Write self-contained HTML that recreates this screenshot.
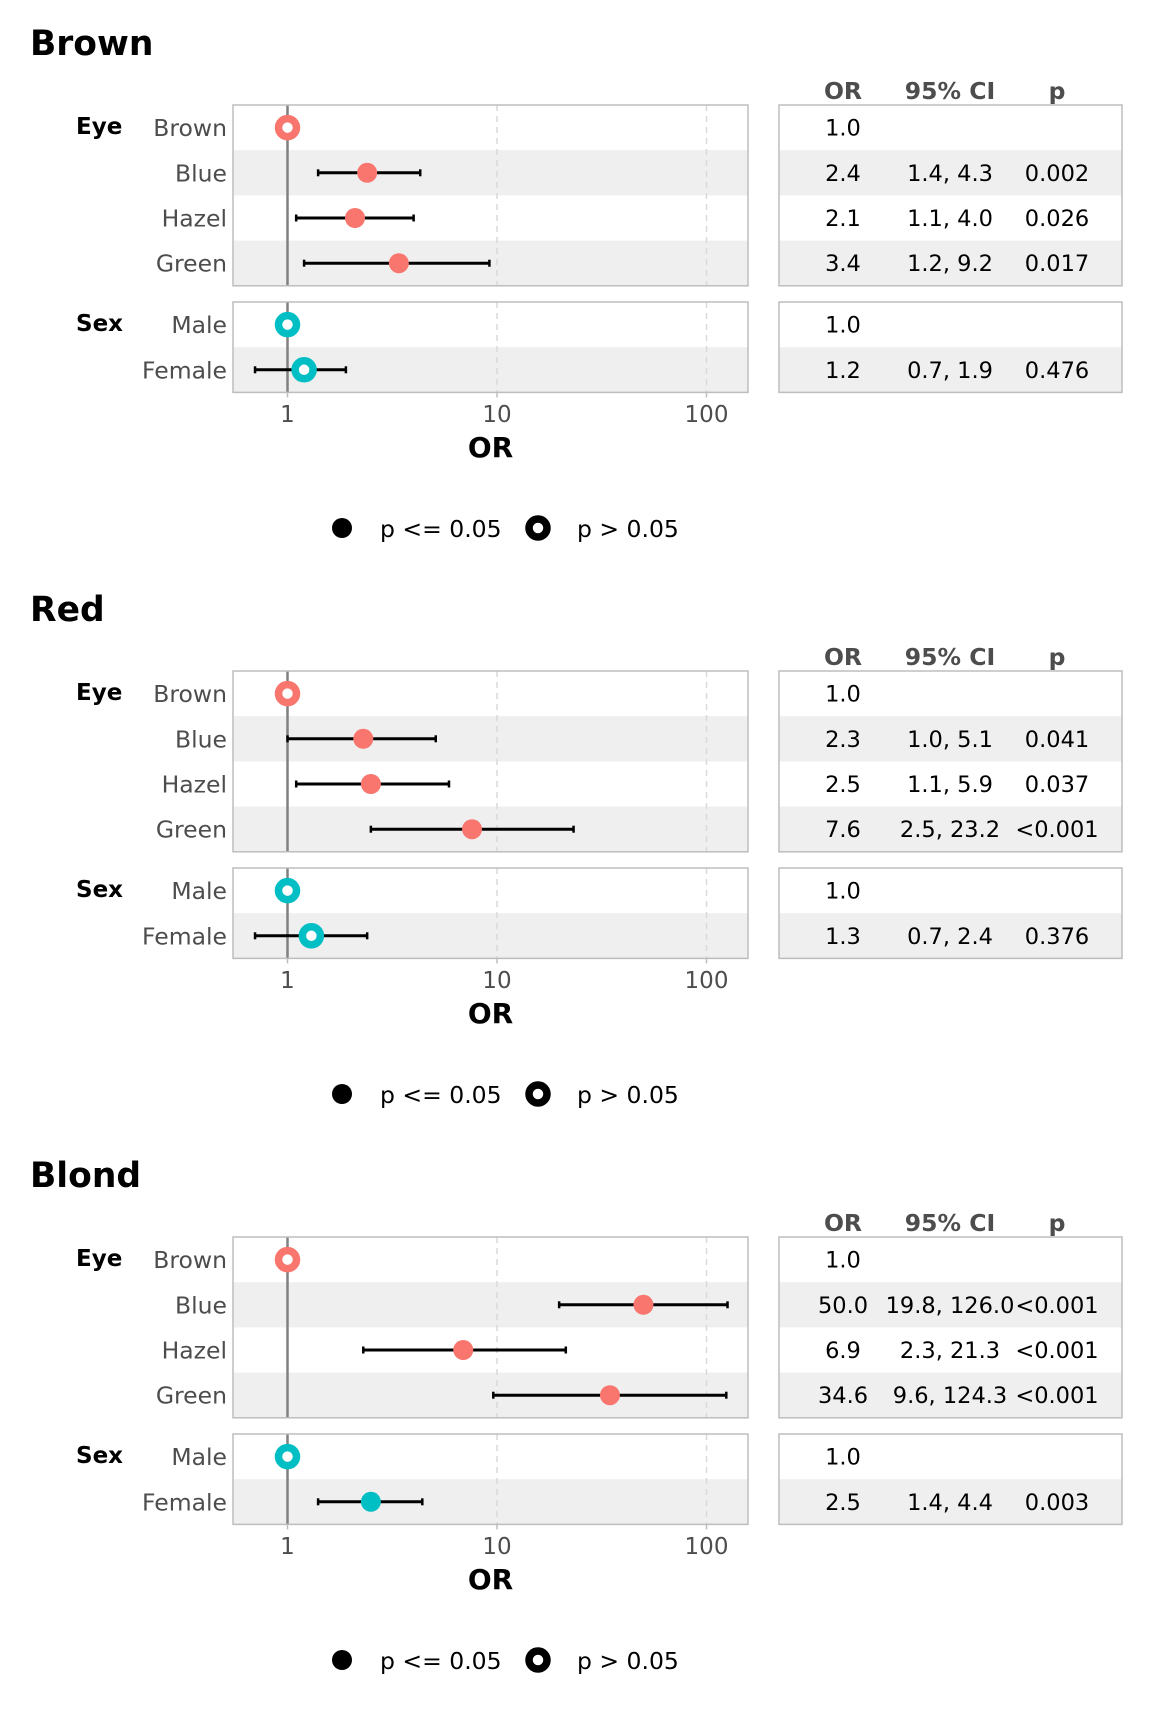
<!DOCTYPE html>
<html><head><meta charset="utf-8">
<style>
html,body{margin:0;padding:0;background:#fff;}
svg{display:block;font-family:"DejaVu Sans","Liberation Sans",sans-serif;}
</style></head>
<body>
<svg id="chart" width="1152" height="1728" viewBox="0 0 1152 1728" xmlns="http://www.w3.org/2000/svg"></svg>
<script>
const sectionTitles = ["Brown", "Red", "Blond"];
const eyeLevels = ["Brown", "Blue", "Hazel", "Green"];
const sexLevels = ["Male", "Female"];
// OR estimates per section: [Brown, Blue, Hazel, Green, Male, Female]
const orValues = [
  [1.0, 2.4, 2.1, 3.4, 1.0, 1.2],
  [1.0, 2.3, 2.5, 7.6, 1.0, 1.3],
  [1.0, 50.0, 6.9, 34.6, 1.0, 2.5]
];
const ciLow = [
  [null, 1.4, 1.1, 1.2, null, 0.7],
  [null, 1.0, 1.1, 2.5, null, 0.7],
  [null, 19.8, 2.3, 9.6, null, 1.4]
];
const ciHigh = [
  [null, 4.3, 4.0, 9.2, null, 1.9],
  [null, 5.1, 5.9, 23.2, null, 2.4],
  [null, 126.0, 21.3, 124.3, null, 4.4]
];
const pValues = [
  ["", "0.002", "0.026", "0.017", "", "0.476"],
  ["", "0.041", "0.037", "<0.001", "", "0.376"],
  ["", "<0.001", "<0.001", "<0.001", "", "0.003"]
];
const significant = [
  [false, true, true, true, false, false],
  [false, true, true, true, false, false],
  [false, true, true, true, false, true]
];
const tickValues = [1, 10, 100];
const tickLabels = ["1", "10", "100"];

const NS = "http://www.w3.org/2000/svg";
const svg = document.getElementById("chart");
function mk(tag, attrs, parent, text) {
  const e = document.createElementNS(NS, tag);
  for (const k in attrs) e.setAttribute(k, attrs[k]);
  if (text !== undefined) e.textContent = text;
  (parent || svg).appendChild(e);
  return e;
}
const PL = 233, PR = 748, X1 = 287.5, DEC = 209.5;
function xScale(v) { return X1 + DEC * Math.log10(v); }
const TL = 779, TR = 1122;
const colOR = 843, colCI = 950, colP = 1057;
const ROWH = 45.2;
const eyeTop = 105, sexTop = 302;
const SECT = 566;
const red = "#F8766D", cyan = "#00BFC4";
function fmt(v) { return v.toFixed(1); }

sectionTitles.forEach((title, s) => {
  const off = s * SECT;
  const g = mk("g", {});
  
  
  const t = mk("text", {x: 30, y: off + 55, "font-size": 34.5, "font-weight": "bold", fill: "#000"}, g, title);
  
  
  [["OR", colOR], ["95% CI", colCI], ["p", colP]].forEach(([h, cx]) => {
    const ht = mk("text", {x: cx, y: off + 99, "font-size": 23.5, "font-weight": "bold", fill: "#4d4d4d", "text-anchor": "middle"}, g, h);
    
    
  });
  const groups = [
    {name: "Eye", levels: eyeLevels, top: eyeTop, start: 0, color: red},
    {name: "Sex", levels: sexLevels, top: sexTop, start: 4, color: cyan}
  ];
  groups.forEach(grp => {
    const top = off + grp.top;
    const h = grp.levels.length * ROWH;
    grp.levels.forEach((lv, i) => {
      if (i % 2 === 1) {
        const r1 = mk("rect", {x: PL, y: top + i * ROWH, width: PR - PL, height: ROWH, fill: "#efefef"}, g);
        
        
        const r2 = mk("rect", {x: TL, y: top + i * ROWH, width: TR - TL, height: ROWH, fill: "#efefef"}, g);
        
        
      }
    });
    tickValues.slice(1).forEach(tv => {
      const gl = mk("line", {x1: xScale(tv), x2: xScale(tv), y1: top, y2: top + h, stroke: "#d9d9d9", "stroke-width": 1.5, "stroke-dasharray": "6,5"}, g);
      
      
    });
    const rl = mk("line", {x1: xScale(1), x2: xScale(1), y1: top, y2: top + h, stroke: "#808080", "stroke-width": 2.5}, g);
    
    
    const gt = mk("text", {x: 76, y: top + 29, "font-size": 23, "font-weight": "bold", fill: "#000"}, g, grp.name);
    
    
    grp.levels.forEach((lv, i) => {
      const idx = grp.start + i;
      const cy = top + i * ROWH + ROWH / 2;
      const lt = mk("text", {x: 227, y: cy + 8.5, "font-size": 23.5, fill: "#4d4d4d", "text-anchor": "end"}, g, lv);
      
      
      const lo = ciLow[s][idx], hi = ciHigh[s][idx], v = orValues[s][idx];
      if (lo !== null) {
        const el = mk("line", {x1: xScale(lo), x2: xScale(hi), y1: cy, y2: cy, stroke: "#000", "stroke-width": 3}, g);
        
        
        [lo, hi].forEach(cv => {
          const cap = mk("line", {x1: xScale(cv), x2: xScale(cv), y1: cy - 3.5, y2: cy + 3.5, stroke: "#000", "stroke-width": 2.5}, g);
          
          
        });
      }
      let pt;
      if (significant[s][idx]) {
        pt = mk("circle", {cx: xScale(v), cy: cy, r: 10, fill: grp.color}, g);
      } else {
        pt = mk("circle", {cx: xScale(v), cy: cy, r: 9, fill: "#fff", stroke: grp.color, "stroke-width": 7.5}, g);
      }
      
      
      const ot = mk("text", {x: colOR, y: cy + 8, "font-size": 22.5, fill: "#000", "text-anchor": "middle"}, g, fmt(v));
      
      
      if (lo !== null) {
        const ct = mk("text", {x: colCI, y: cy + 8, "font-size": 22.5, fill: "#000", "text-anchor": "middle"}, g, fmt(lo) + ", " + fmt(hi));
        
        
        const pp = mk("text", {x: colP, y: cy + 8, "font-size": 22.5, fill: "#000", "text-anchor": "middle"}, g, pValues[s][idx]);
        
        
      }
    });
    const b1 = mk("rect", {x: PL, y: top, width: PR - PL, height: h, fill: "none", stroke: "#bdbdbd", "stroke-width": 1.5}, g);
    
    
    const b2 = mk("rect", {x: TL, y: top, width: TR - TL, height: h, fill: "none", stroke: "#bdbdbd", "stroke-width": 1.5}, g);
    
    
  });
  const axBottom = off + sexTop + 2 * ROWH;
  tickValues.forEach((tv, i) => {
    const tk = mk("line", {x1: xScale(tv), x2: xScale(tv), y1: axBottom, y2: axBottom + 5, stroke: "#bdbdbd", "stroke-width": 1.5}, g);
    
    
    const tl = mk("text", {x: xScale(tv), y: off + 422, "font-size": 23, fill: "#4d4d4d", "text-anchor": "middle"}, g, tickLabels[i]);
    
    
  });
  const xt = mk("text", {x: (PL + PR) / 2, y: off + 457, "font-size": 28, "font-weight": "bold", fill: "#000", "text-anchor": "middle"}, g, "OR");
  
  
  const lg = mk("g", {}, g);
  
  
  const ld = mk("circle", {cx: 342, cy: off + 528, r: 10, fill: "#000"}, lg);
  
  
  const l1 = mk("text", {x: 380, y: off + 537, "font-size": 23.5, fill: "#000"}, lg, "p <= 0.05");
  
  
  const lr = mk("circle", {cx: 538, cy: off + 528, r: 9, fill: "#fff", stroke: "#000", "stroke-width": 7.5}, lg);
  
  
  const l2 = mk("text", {x: 577, y: off + 537, "font-size": 23.5, fill: "#000"}, lg, "p > 0.05");
  
  
});
</script>
</body></html>
